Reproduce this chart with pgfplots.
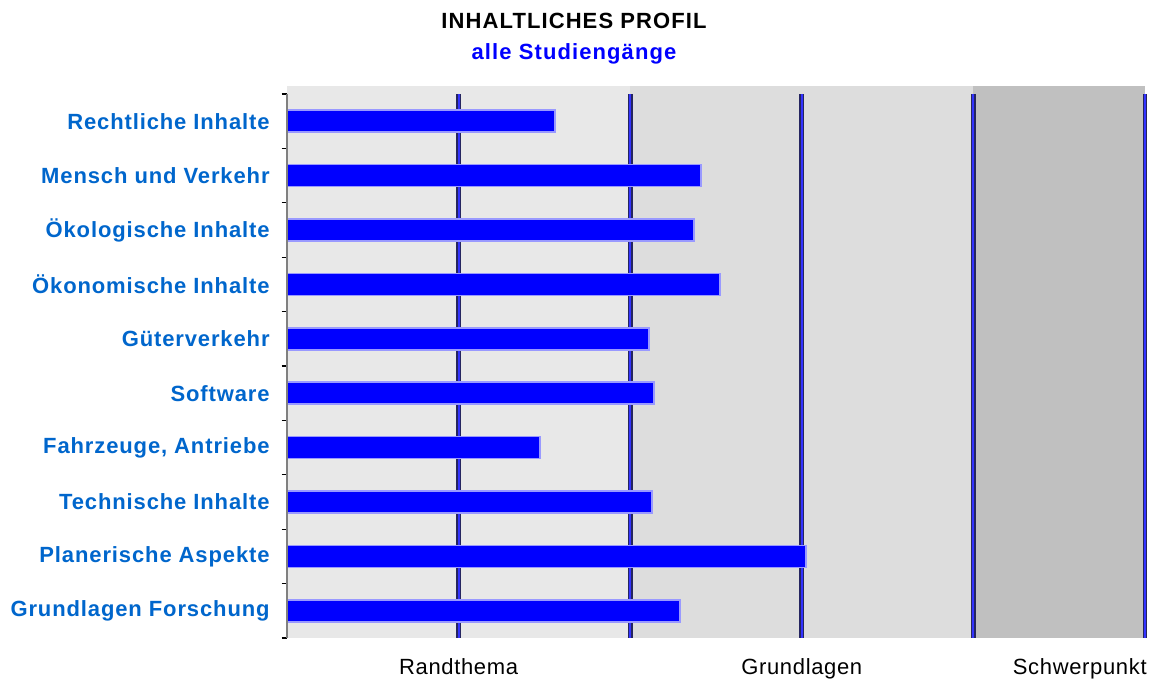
\documentclass[border=0pt]{standalone}
\usepackage{pgfplots}
\pgfplotsset{compat=1.18}
\usepackage{fontspec}
\setmainfont{Liberation Sans}
\newfontfamily\ttlfont[LetterSpace=5]{Liberation Sans}
\newfontfamily\lblfont[LetterSpace=4]{Liberation Sans}
\newfontfamily\txtfont[LetterSpace=3]{Liberation Sans}

\definecolor{lblblue}{HTML}{0066CC}
\definecolor{barblue}{HTML}{0000FF}
\definecolor{baredge}{HTML}{9999FF}
\definecolor{bandA}{HTML}{E8E8E8}
\definecolor{bandB}{HTML}{DDDDDD}
\definecolor{bandC}{HTML}{C0C0C0}
\definecolor{refdark}{HTML}{252560}
\definecolor{refblue}{HTML}{3333FF}

\newcommand{\lsize}{\fontsize{16.5}{19}\selectfont}

\begin{document}
\begin{tikzpicture}
% canvas 1154 x 680 px (1 px = 0.75pt)
\useasboundingbox (0,0) rectangle (865.5pt,-510pt);

\node[anchor=base, font=\ttlfont\lsize\bfseries] at (430.5pt,-21.75pt) {INHALTLICHES PROFIL};
\node[anchor=base, font=\ttlfont\lsize\bfseries, text=barblue] at (430.5pt,-45pt) {alle Studiengänge};

\begin{axis}[
    at={(215.25pt,-478.5pt)}, anchor=south west,
    scale only axis,
    width=643.5pt, height=414pt,
    xmin=0, xmax=5,
    ymin=-0.5, ymax=9.647,
    axis x line=none,
    axis y line*=left,
    y axis line style={draw=none},
    clip=false,
    ytick={0,...,9},
    yticklabels={Grundlagen Forschung, Planerische Aspekte, Technische Inhalte,
        {Fahrzeuge, Antriebe}, Software, Güterverkehr, Ökonomische Inhalte,
        Ökologische Inhalte, Mensch und Verkehr, Rechtliche Inhalte},
    yticklabel style={font=\lblfont\lsize\bfseries, text=lblblue, xshift=-9.5pt},
    major tick length=0pt,
    minor ytick={-0.5,0.5,...,9.5},
    minor tick length=4pt,
    tick align=outside,
    minor tick style={black, line width=0.8pt},
]

% background bands
\fill[bandA] (axis cs:0,-0.5) rectangle (axis cs:2,9.647);
\fill[bandB] (axis cs:2,-0.5) rectangle (axis cs:4,9.647);
\fill[bandC] (axis cs:4,-0.5) rectangle (axis cs:5,9.647);

% reference lines
\addplot[refdark, line width=3.6pt, unbounded coords=jump, forget plot] coordinates {
    (1,-0.5) (1,9.5) (nan,nan)
    (2,-0.5) (2,9.5) (nan,nan)
    (3,-0.5) (3,9.5) (nan,nan)
    (4,-0.5) (4,9.5) (nan,nan)
    (5,-0.5) (5,9.5)
};
\addplot[refblue, line width=1.5pt, unbounded coords=jump, forget plot] coordinates {
    (1,-0.5) (1,9.5) (nan,nan)
    (2,-0.5) (2,9.5) (nan,nan)
    (3,-0.5) (3,9.5) (nan,nan)
    (4,-0.5) (4,9.5) (nan,nan)
    (5,-0.5) (5,9.5)
};

% bars
\addplot[xbar, bar width=16.5pt, fill=barblue, draw=baredge, line width=1.2pt] coordinates {
    (2.290,0)
    (3.024,1)
    (2.127,2)
    (1.474,3)
    (2.139,4)
    (2.110,5)
    (2.523,6)
    (2.372,7)
    (2.413,8)
    (1.562,9)
};

% y axis line
\draw[gray, line width=1.6pt] (axis cs:0,-0.5) -- (axis cs:0,9.5);

% category band labels
\node[anchor=base, font=\txtfont\lsize] at (axis cs:1,-1.18) {Randthema};
\node[anchor=base, font=\txtfont\lsize] at (axis cs:3,-1.18) {Grundlagen};
\node[anchor=base, font=\txtfont\lsize] at (axis cs:4.62,-1.18) {Schwerpunkt};
\end{axis}
\end{tikzpicture}
\end{document}
